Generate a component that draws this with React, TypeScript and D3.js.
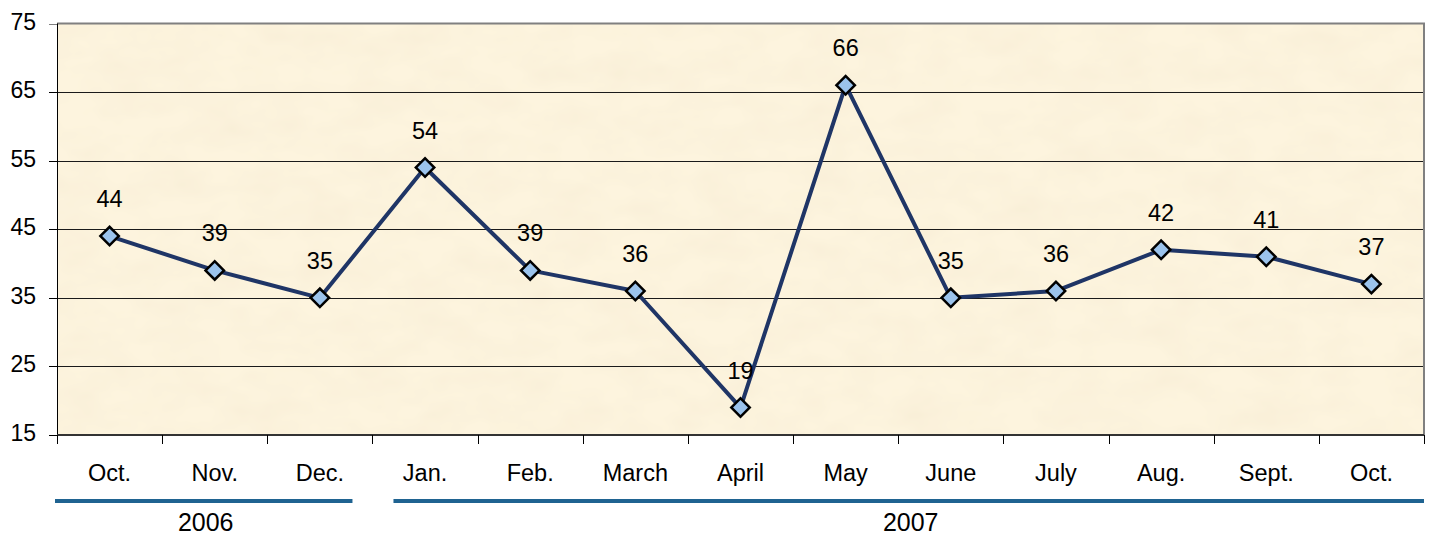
import React, { useEffect, useRef } from 'react';
import * as d3 from 'd3';

const months = ['Oct.', 'Nov.', 'Dec.', 'Jan.', 'Feb.', 'March', 'April', 'May', 'June', 'July', 'Aug.', 'Sept.', 'Oct.'];
const values = [44, 39, 35, 54, 39, 36, 19, 66, 35, 36, 42, 41, 37];
const yTicks = [15, 25, 35, 45, 55, 65, 75];
const years = ['2006', '2007'];
const yearFirst = [0, 3];
const yearLast = [2, 12];

const App = () => {
  const chart = useRef<SVGSVGElement>(null);

  useEffect(() => {
    const width = 1431;
    const height = 538;
    const margin = { top: 23.5, right: 7, bottom: 103, left: 57 };
    const font = '"Liberation Sans", Arial, sans-serif';

    const svg = d3.select(chart.current);
    svg.selectAll('*').remove();

    const idx = months.map((_, i) => i);
    const x = d3
      .scaleBand<number>()
      .domain(idx)
      .range([margin.left, width - margin.right]);
    const y = d3
      .scaleLinear()
      .domain([15, 75])
      .range([height - margin.bottom, margin.top]);

    const bw = x.bandwidth();
    const cx = (i: number) => (x(i) as number) + bw / 2;

    // parchment background
    const defs = svg.append('defs');
    const filter = defs
      .append('filter')
      .attr('id', 'paper')
      .attr('x', 0)
      .attr('y', 0)
      .attr('width', 1)
      .attr('height', 1);
    filter
      .append('feTurbulence')
      .attr('type', 'fractalNoise')
      .attr('baseFrequency', '0.02 0.035')
      .attr('numOctaves', 3)
      .attr('seed', 7)
      .attr('result', 'noise');
    filter
      .append('feColorMatrix')
      .attr('in', 'noise')
      .attr('type', 'matrix')
      .attr('values', '0 0 0 0 0.94  0 0 0 0 0.86  0 0 0 0 0.68  0 0 0 1.4 -0.45')
      .attr('result', 'tint');
    filter.append('feComposite').attr('in', 'tint').attr('in2', 'SourceGraphic').attr('operator', 'atop');

    svg
      .append('rect')
      .attr('x', margin.left)
      .attr('y', margin.top)
      .attr('width', width - margin.left - margin.right)
      .attr('height', y(15) - y(75))
      .attr('fill', '#fdf4de')
      .attr('filter', 'url(#paper)');

    // gridlines
    svg
      .append('g')
      .selectAll('line')
      .data(yTicks.filter((t) => t !== 15 && t !== 75))
      .join('line')
      .attr('x1', margin.left)
      .attr('x2', width - margin.right)
      .attr('y1', (d) => Math.round(y(d)) + 0.5)
      .attr('y2', (d) => Math.round(y(d)) + 0.5)
      .attr('stroke', '#1a1a1a')
      .attr('stroke-width', 1);

    // top and right border
    svg
      .append('path')
      .attr('d', `M${margin.left},${y(75)}H${width - margin.right}V${y(15)}`)
      .attr('fill', 'none')
      .attr('stroke', '#808080')
      .attr('stroke-width', 2);

    // y axis
    const yAxis = svg.append('g');
    yAxis
      .append('line')
      .attr('x1', margin.left + 0.5)
      .attr('x2', margin.left + 0.5)
      .attr('y1', y(75))
      .attr('y2', y(15) + 8)
      .attr('stroke', '#000');
    yAxis
      .selectAll('line.tick')
      .data(yTicks)
      .join('line')
      .attr('class', 'tick')
      .attr('x1', margin.left - 8)
      .attr('x2', margin.left)
      .attr('y1', (d) => Math.round(y(d)) + 0.5)
      .attr('y2', (d) => Math.round(y(d)) + 0.5)
      .attr('stroke', (d) => (d === 75 ? '#808080' : '#000'));
    yAxis
      .selectAll('text')
      .data(yTicks)
      .join('text')
      .attr('x', 36)
      .attr('y', (d) => y(d) + 6)
      .attr('text-anchor', 'end')
      .attr('font-family', font)
      .attr('font-size', 23)
      .text((d) => d);

    // x axis
    const xAxis = svg.append('g');
    xAxis
      .append('line')
      .attr('x1', margin.left)
      .attr('x2', width - margin.right)
      .attr('y1', y(15))
      .attr('y2', y(15))
      .attr('stroke', '#333')
      .attr('stroke-width', 2);
    xAxis
      .selectAll('line.tick')
      .data([...idx, months.length])
      .join('line')
      .attr('class', 'tick')
      .attr('x1', (i) => Math.round(margin.left + i * bw) + 0.5)
      .attr('x2', (i) => Math.round(margin.left + i * bw) + 0.5)
      .attr('y1', y(15))
      .attr('y2', y(15) + 9)
      .attr('stroke', '#000');
    xAxis
      .selectAll('text')
      .data(idx)
      .join('text')
      .attr('x', (i) => cx(i))
      .attr('y', 481)
      .attr('text-anchor', 'middle')
      .attr('font-family', font)
      .attr('font-size', 23.5)
      .text((i) => months[i]);

    // year brackets
    const yearG = svg.append('g');
    years.forEach((yr, k) => {
      const x0 = (x(yearFirst[k]) as number) + (k > 0 ? 21 : -2);
      const x1 = (x(yearLast[k]) as number) + bw - (k < years.length - 1 ? 20 : 0);
      yearG
        .append('line')
        .attr('x1', x0)
        .attr('x2', x1)
        .attr('y1', 501)
        .attr('y2', 501)
        .attr('stroke', '#1f6391')
        .attr('stroke-width', 4);
      yearG
        .append('text')
        .attr('x', (x0 + x1) / 2 + 2)
        .attr('y', 531)
        .attr('text-anchor', 'middle')
        .attr('font-family', font)
        .attr('font-size', 25)
        .text(yr);
    });

    // series line
    const line = d3
      .line<number>()
      .x((_, i) => cx(i))
      .y((d) => y(d));
    svg
      .append('path')
      .attr('d', line(values))
      .attr('fill', 'none')
      .attr('stroke', '#1f3566')
      .attr('stroke-width', 4)
      .attr('stroke-linejoin', 'round');

    // markers
    const diamond = d3.symbol().type(d3.symbolSquare).size(170);
    svg
      .append('g')
      .selectAll('path')
      .data(values)
      .join('path')
      .attr('d', diamond())
      .attr('transform', (d, i) => `translate(${cx(i)},${y(d)}) rotate(45)`)
      .attr('fill', '#9bc3ec')
      .attr('stroke', '#000')
      .attr('stroke-width', 2.5);

    // data labels
    svg
      .append('g')
      .selectAll('text')
      .data(values)
      .join('text')
      .attr('x', (_, i) => cx(i))
      .attr('y', (d) => y(d) - 29)
      .attr('text-anchor', 'middle')
      .attr('font-family', font)
      .attr('font-size', 23.5)
      .text((d) => d);
  }, []);

  return <svg ref={chart} width={1431} height={538} style={{ display: 'block', position: 'absolute', left: 0, top: 0 }} />;
};

export default App;
